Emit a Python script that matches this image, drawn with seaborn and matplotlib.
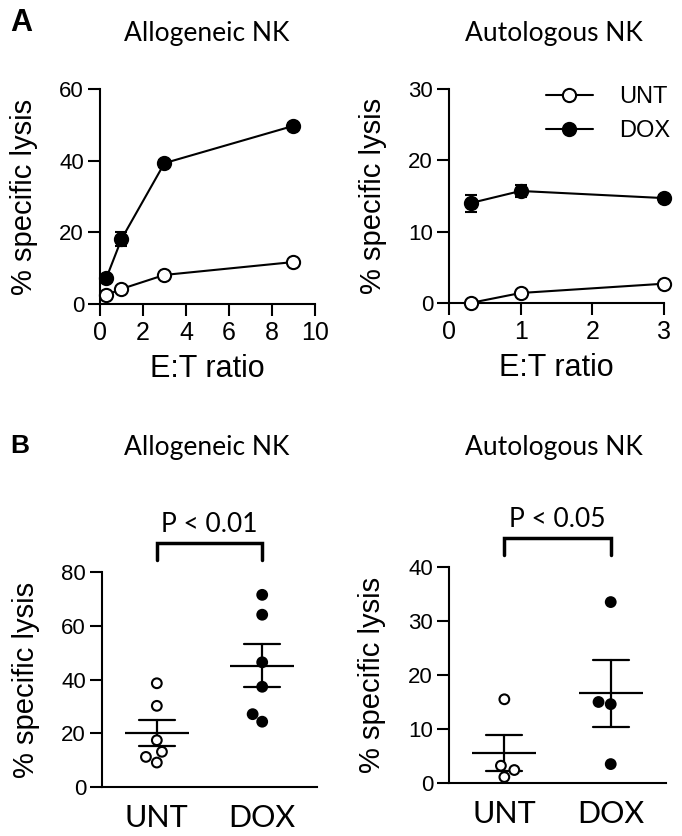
import matplotlib
matplotlib.use("Agg")
import matplotlib.pyplot as plt
import seaborn as sns
import pandas as pd

# E:T titration (panel A)
et_allo = [0.3, 1, 3, 9]
allo_unt = [2.5, 4.2, 8.1, 11.7]
allo_dox = [7.3, 18.1, 39.3, 49.7]
allo_dox_sem = [0.8, 2.0, 1.0, 0.8]

et_auto = [0.3, 1, 3]
auto_unt = [0.0, 1.4, 2.7]
auto_dox = [14.0, 15.7, 14.7]
auto_dox_sem = [1.2, 0.85, 0.5]

# individual donors (panel B)
groups = ["UNT", "DOX"]
allo_unt_pts = [38.6, 30.2, 17.4, 13.1, 11.2, 9.1]
allo_dox_pts = [71.5, 64.1, 46.4, 37.3, 27.1, 24.3]
auto_unt_pts = [15.5, 3.2, 2.4, 1.1]
auto_dox_pts = [33.5, 15.0, 14.6, 3.5]

sns.set_style("ticks")
plt.rcParams["font.family"] = ["Liberation Sans", "DejaVu Sans"]
plt.rcParams["axes.linewidth"] = 1.5
for key in ["text.color", "axes.labelcolor", "xtick.color", "ytick.color",
            "axes.edgecolor", "xtick.labelcolor", "ytick.labelcolor"]:
    plt.rcParams[key] = "black"

ARIAL = "Liberation Sans"
CALI = "Lato"

fig = plt.figure(figsize=(6.82, 8.36), dpi=100)
ax1 = fig.add_axes([0.1466, 0.6364, 0.3152, 0.2572])
ax2 = fig.add_axes([0.6584, 0.6376, 0.3152, 0.2560])
ax3 = fig.add_axes([0.1496, 0.0586, 0.3152, 0.2572])
ax4 = fig.add_axes([0.6584, 0.0634, 0.3182, 0.2584])


def style_axes(ax, yt):
    sns.despine(ax=ax)
    ax.tick_params(axis="both", width=1.5, length=8.5, color="black")
    ax.set_yticks(yt)
    ax.set_yticklabels([str(v) for v in yt], fontsize=16, family=ARIAL)
    ax.tick_params(axis="y", pad=3)
    ax.set_ylabel("% specific lysis", fontsize=21, family=ARIAL)
    ax.yaxis.set_label_coords(-0.29, 0.5)


# ---- panel A ----
for ax, et, unt, dox, dsem, ymax, ystep, xt in [
    (ax1, et_allo, allo_unt, allo_dox, allo_dox_sem, 60, 20, [0, 2, 4, 6, 8, 10]),
    (ax2, et_auto, auto_unt, auto_dox, auto_dox_sem, 30, 10, [0, 1, 2, 3]),
]:
    ax.errorbar(et, dox, yerr=dsem, fmt="none", ecolor="black", elinewidth=1.5,
                capsize=4, capthick=1.5, zorder=2, clip_on=False)
    sns.lineplot(x=et, y=unt, ax=ax, color="black", linewidth=1.5, marker="o",
                 markersize=9.5, markerfacecolor="white", markeredgecolor="black",
                 markeredgewidth=1.5, label="UNT", clip_on=False, zorder=3)
    sns.lineplot(x=et, y=dox, ax=ax, color="black", linewidth=1.5, marker="o",
                 markersize=9.5, markerfacecolor="black", markeredgecolor="black",
                 markeredgewidth=1.5, label="DOX", clip_on=False, zorder=3)
    ax.set_xlim(0, xt[-1])
    ax.set_ylim(0, ymax)
    style_axes(ax, list(range(0, ymax + 1, ystep)))
    ax.set_xticks(xt)
    ax.set_xticklabels([str(v) for v in xt], fontsize=18, family=ARIAL)
    ax.tick_params(axis="x", pad=4)
    ax.set_xlabel("E:T ratio", fontsize=22, family=ARIAL)
    ax.xaxis.set_label_coords(0.5, -0.235)

ax1.get_legend().remove()
ax2.legend(loc="upper left", bbox_to_anchor=(0.45, 1.013), frameon=False,
           prop={"family": ARIAL, "size": 17}, handlelength=2.0,
           handletextpad=1.1, labelspacing=0.5, borderpad=0, borderaxespad=0)

# ---- panel B ----
for ax, unt_pts, dox_pts, ymax, ystep, ptxt in [
    (ax3, allo_unt_pts, allo_dox_pts, 80, 20, "P < 0.01"),
    (ax4, auto_unt_pts, auto_dox_pts, 40, 10, "P < 0.05"),
]:
    df = pd.DataFrame({"group": ["UNT"] * len(unt_pts) + ["DOX"] * len(dox_pts),
                       "lysis": unt_pts + dox_pts})
    sns.swarmplot(data=df, x="group", y="lysis", hue="group", order=groups,
                  palette={"UNT": "white", "DOX": "black"}, edgecolor="black",
                  linewidth=1.5, size=7, legend=False, ax=ax, zorder=3)
    sns.pointplot(data=df, x="group", y="lysis", order=groups, errorbar="se",
                  capsize=0.34, markers="_", linestyles="none", color="black",
                  markersize=46, markeredgewidth=1.6,
                  err_kws={"linewidth": 1.6}, ax=ax)
    ax.set_xlim(-0.52, 1.52)
    ax.set_ylim(0, ymax)
    style_axes(ax, list(range(0, ymax + 1, ystep)))
    ax.set_xlabel("")
    ax.set_xticks([0, 1])
    ax.set_xticklabels(groups, fontsize=22, family=CALI)
    ax.tick_params(axis="x", length=0, pad=12)
    # significance bracket
    top = ymax * 1.135
    drop = ymax * 1.055
    ax.plot([0, 0, 1, 1], [drop, top, top, drop], color="black", linewidth=2.5,
            clip_on=False, solid_joinstyle="miter")
    ax.text(0.5, ymax * 1.22, ptxt, ha="center", va="center", fontsize=19,
            family=CALI)

# titles and panel letters
fig.text(0.3035, 0.9605, "Allogeneic NK", ha="center", va="center", fontsize=19, family=CALI)
fig.text(0.812, 0.9605, "Autologous NK", ha="center", va="center", fontsize=19, family=CALI)
fig.text(0.3035, 0.4653, "Allogeneic NK", ha="center", va="center", fontsize=19, family=CALI)
fig.text(0.812, 0.4653, "Autologous NK", ha="center", va="center", fontsize=19, family=CALI)
fig.text(0.031, 0.973, "A", ha="center", va="center", fontsize=22, weight="bold", family=ARIAL)
fig.text(0.029, 0.467, "B", ha="center", va="center", fontsize=19, weight="bold", family=ARIAL)

plt.savefig("out.png", dpi=100)
